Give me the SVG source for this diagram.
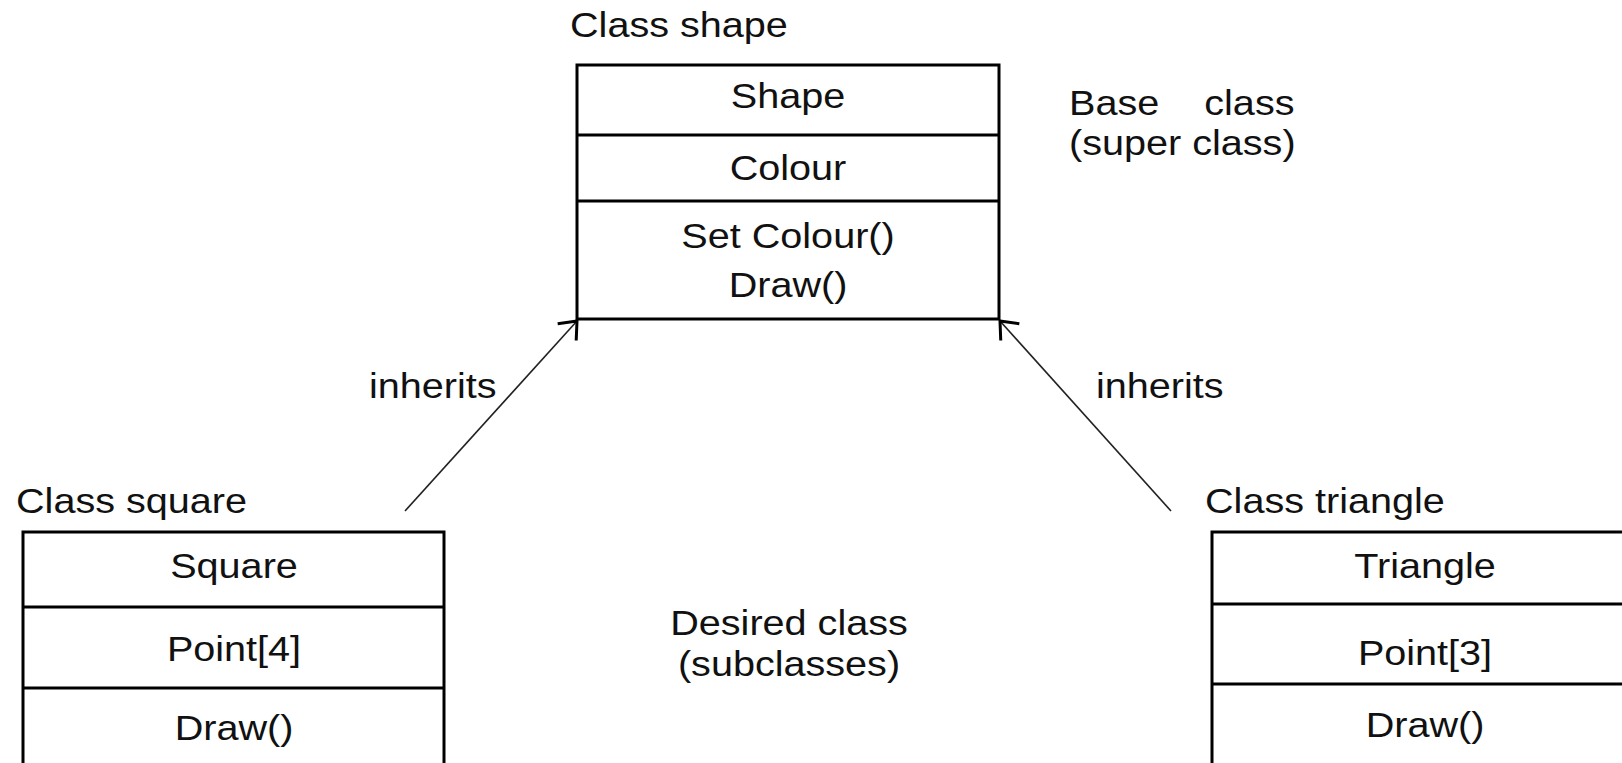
<svg xmlns="http://www.w3.org/2000/svg" width="1622" height="763" viewBox="0 0 1622 763">
<style>
text{font-family:"Liberation Sans",Arial,sans-serif;font-size:36px;fill:#111}
.c{text-anchor:middle}
.box{fill:#fff;stroke:#000;stroke-width:3}
.div{stroke:#000;stroke-width:3}
.conn{stroke:#222;stroke-width:1.6;fill:none}
</style>
<defs>
<marker id="open" markerUnits="userSpaceOnUse" markerWidth="40" markerHeight="40" refX="0" refY="0" viewBox="-20 -20 40 40" orient="auto" overflow="visible">
<path d="M-15,-12.5 L0,0 L-15,12.5" fill="none" stroke="#000" stroke-width="3"/>
</marker>
</defs>
<rect width="1622" height="763" fill="#fff"/>
<g id="shape">
<text transform="translate(570,37) scale(1.1,1)">Class shape</text>
<rect class="box" x="577" y="65" width="422" height="254"/>
<line class="div" x1="577" y1="135" x2="999" y2="135"/>
<line class="div" x1="577" y1="201" x2="999" y2="201"/>
<text class="c" transform="translate(788,108) scale(1.1,1)">Shape</text>
<text class="c" transform="translate(788,180) scale(1.1,1)">Colour</text>
<text class="c" transform="translate(788,248) scale(1.1,1)">Set Colour()</text>
<text class="c" transform="translate(788,297) scale(1.1,1)">Draw()</text>
</g>
<g id="base-label">
<text transform="translate(1069,115) scale(1.1,1)"><tspan x="0">Base</tspan><tspan x="123">class</tspan></text>
<text transform="translate(1069,155) scale(1.1,1)">(super class)</text>
</g>
<g id="square">
<text transform="translate(16,513) scale(1.1,1)">Class square</text>
<rect class="box" x="23" y="532" width="421" height="260"/>
<line class="div" x1="23" y1="607" x2="444" y2="607"/>
<line class="div" x1="23" y1="688" x2="444" y2="688"/>
<text class="c" transform="translate(234,578) scale(1.1,1)">Square</text>
<text class="c" transform="translate(234,661) scale(1.1,1)">Point[4]</text>
<text class="c" transform="translate(234,740) scale(1.1,1)">Draw()</text>
</g>
<g id="triangle">
<text transform="translate(1205,513) scale(1.1,1)">Class triangle</text>
<rect class="box" x="1212" y="532" width="430" height="260"/>
<line class="div" x1="1212" y1="604" x2="1642" y2="604"/>
<line class="div" x1="1212" y1="684" x2="1642" y2="684"/>
<text class="c" transform="translate(1425,578) scale(1.1,1)">Triangle</text>
<text class="c" transform="translate(1425,665) scale(1.1,1)">Point[3]</text>
<text class="c" transform="translate(1425,737) scale(1.1,1)">Draw()</text>
</g>
<g id="sub-label">
<text class="c" transform="translate(789,635) scale(1.1,1)">Desired class</text>
<text class="c" transform="translate(789,676) scale(1.1,1)">(subclasses)</text>
</g>
<g id="connectors">
<line class="conn" x1="405" y1="511" x2="577" y2="321" marker-end="url(#open)"/>
<line class="conn" x1="1171" y1="511" x2="1000" y2="321" marker-end="url(#open)"/>
<text transform="translate(369,398) scale(1.1,1)">inherits</text>
<text transform="translate(1096,398) scale(1.1,1)">inherits</text>
</g>
</svg>
